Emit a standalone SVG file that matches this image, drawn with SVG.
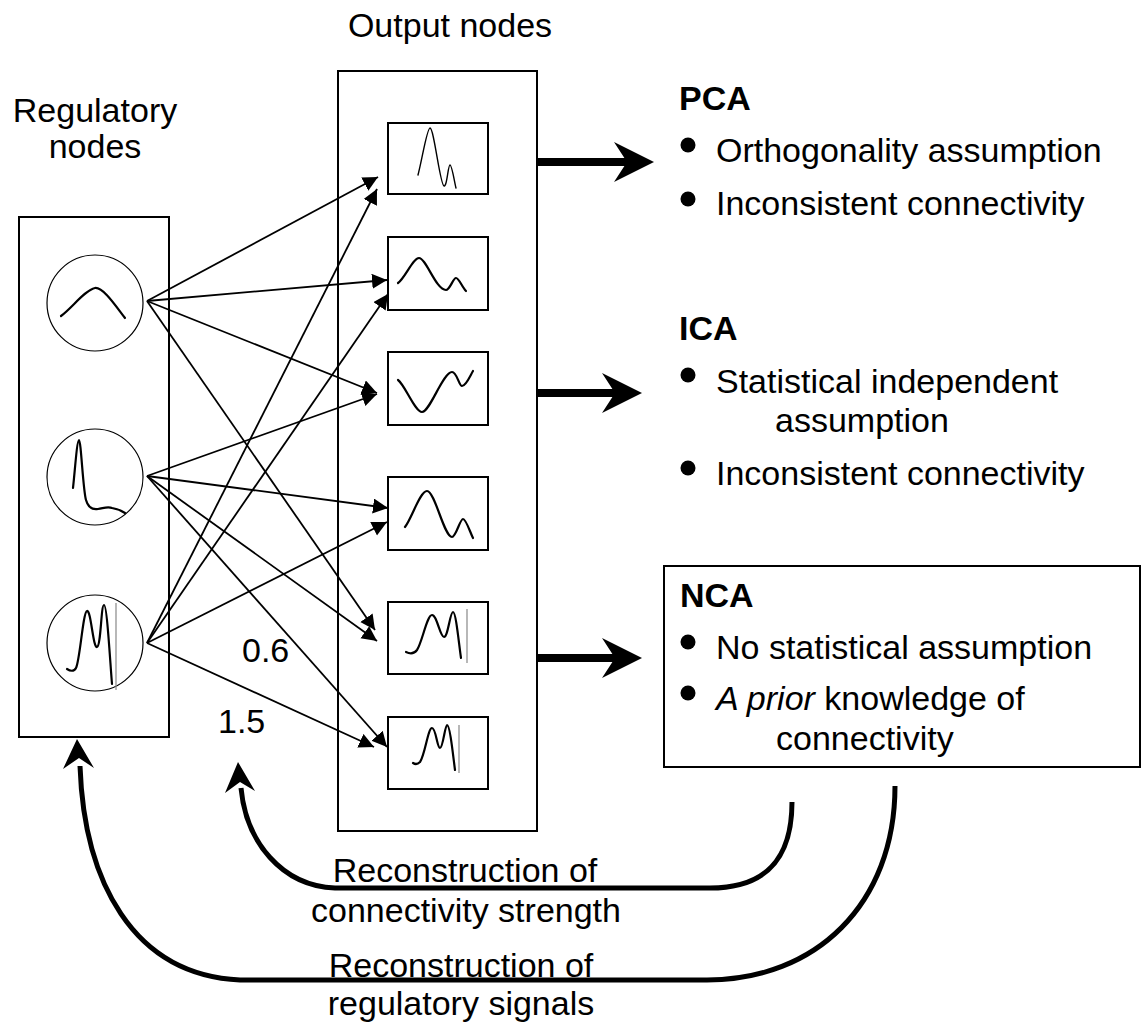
<svg xmlns="http://www.w3.org/2000/svg" width="1141" height="1024" viewBox="0 0 1141 1024">
  <style>
    text { font-family: "Liberation Sans", Arial, sans-serif; font-size: 34px; fill: #000; }
    .bold { font-weight: bold; }
    .frame { fill: #fff; stroke: #000; stroke-width: 2; }
    .node { fill: #fff; stroke: #000; stroke-width: 1.2; }
    .wave { fill: none; stroke: #000; stroke-width: 2.2; stroke-linecap: round; stroke-linejoin: round; }
    .wave-thin { fill: none; stroke: #000; stroke-width: 1.4; stroke-linecap: round; stroke-linejoin: round; }
    .baseline { stroke: #888; stroke-width: 1.2; }
    .link { fill: none; stroke: #000; stroke-width: 1.8; marker-end: url(#tri); }
    .thick { fill: none; stroke: #000; stroke-width: 8; }
    .loop { fill: none; stroke: #000; stroke-width: 5; }
    .bullet { fill: #000; }
  </style>
  <defs>
    <marker id="tri" markerUnits="userSpaceOnUse" markerWidth="16" markerHeight="16" refX="15" refY="7.5" orient="auto">
      <path d="M0,0 L15,7.5 L0,15 z" fill="#000"/>
    </marker>
  </defs>

  <rect width="1141" height="1024" fill="#fff"/>

  <!-- titles -->
  <text x="95" y="122" text-anchor="middle">Regulatory</text>
  <text x="95" y="158" text-anchor="middle">nodes</text>
  <text x="450" y="37" text-anchor="middle">Output nodes</text>

  <!-- regulatory nodes -->
  <g id="regulatory-nodes">
    <rect class="frame" x="19" y="217" width="150" height="520"/>
    <g id="reg-1">
      <circle class="node" cx="95" cy="303" r="48"/>
      <path class="wave" d="M61,316 C72,308 85,290 95,288 C103,287 115,305 125,318"/>
    </g>
    <g id="reg-2">
      <circle class="node" cx="95" cy="477" r="48"/>
      <path class="wave" d="M73,488 C75,470 77,440 79,440 C81,440 83,490 86,500 C88,507 92,510 98,509 C104,508 108,506 112,508 C118,509 122,511 125,513"/>
    </g>
    <g id="reg-3">
      <circle class="node" cx="95" cy="643" r="48"/>
      <path class="wave" d="M67,669 C70,671 74,672 76,668 C80,660 83,612 87,611 C91,610 93,648 97,647 C101,646 101,605 104,605 C107,605 110,660 112,684"/>
      <line class="baseline" x1="116" y1="603" x2="116" y2="690"/>
    </g>
  </g>

  <!-- output nodes -->
  <g id="output-nodes">
    <rect class="frame" x="338" y="71" width="199" height="760"/>
    <g id="out-1">
      <rect class="frame" x="388" y="123" width="100" height="71"/>
      <path class="wave-thin" d="M418,175 C422,160 427,128 430,128 C434,128 440,185 444,186 C447,187 448,165 450,165 C452,165 455,185 456,188"/>
    </g>
    <g id="out-2">
      <rect class="frame" x="388" y="237" width="100" height="73"/>
      <path class="wave" d="M398,283 C405,278 413,258 419,258 C426,258 436,290 446,290 C450,290 453,278 456,278 C459,278 462,287 466,291"/>
    </g>
    <g id="out-3">
      <rect class="frame" x="388" y="352" width="100" height="73"/>
      <path class="wave" d="M398,380 C405,385 415,412 422,412 C430,412 443,372 452,372 C457,372 459,386 462,386 C466,386 470,376 473,371"/>
    </g>
    <g id="out-4">
      <rect class="frame" x="388" y="477" width="100" height="73"/>
      <path class="wave" d="M405,527 C412,518 420,491 427,491 C435,491 444,537 452,537 C456,537 460,519 463,519 C466,519 470,532 473,538"/>
    </g>
    <g id="out-5">
      <rect class="frame" x="388" y="602" width="100" height="72"/>
      <path class="wave" d="M406,652 C410,654 414,654 417,650 C422,643 427,615 432,615 C437,615 440,637 444,637 C448,637 450,612 453,612 C456,612 459,645 461,658"/>
      <line class="baseline" x1="467" y1="609" x2="467" y2="663"/>
    </g>
    <g id="out-6">
      <rect class="frame" x="388" y="717" width="100" height="72"/>
      <path class="wave" d="M413,763 C416,765 418,764 420,762 C425,755 428,728 432,728 C436,728 437,748 440,748 C443,748 445,725 447,725 C450,725 453,755 455,770"/>
      <line class="baseline" x1="459" y1="725" x2="459" y2="773"/>
    </g>
  </g>

  <!-- connectivity links -->
  <g id="connectors">
    <line class="link" x1="147" y1="301" x2="378" y2="177"/>
    <line class="link" x1="147" y1="301" x2="387" y2="280"/>
    <line class="link" x1="147" y1="301" x2="377" y2="393"/>
    <line class="link" x1="147" y1="301" x2="375" y2="630"/>

    <line class="link" x1="147" y1="476" x2="377" y2="394"/>
    <line class="link" x1="147" y1="476" x2="388" y2="508"/>
    <line class="link" x1="147" y1="476" x2="377" y2="641"/>
    <line class="link" x1="147" y1="476" x2="387" y2="747"/>

    <line class="link" x1="147" y1="643" x2="377" y2="189"/>
    <line class="link" x1="147" y1="643" x2="388" y2="294"/>
    <line class="link" x1="147" y1="643" x2="387" y2="522"/>
    <line class="link" x1="147" y1="643" x2="374" y2="747"/>

    <!-- method arrows -->
    <line class="thick" x1="538" y1="162" x2="628" y2="162"/>
    <polygon points="654,162 614,142 627,162 614,182"/>
    <line class="thick" x1="538" y1="393" x2="616" y2="393"/>
    <polygon points="642,393 602,373 615,393 602,413"/>
    <line class="thick" x1="538" y1="658" x2="616" y2="658"/>
    <polygon points="642,658 602,638 615,658 602,678"/>

    <!-- feedback loops -->
    <path class="loop" d="M792,802 C792,860 765,888 710,888 L335,888 C282,886 246,842 241,788"/>
    <polygon points="238,762 225,793 240,782 255,791"/>
    <path class="loop" d="M895,786 C895,905 815,980 707,980 L240,980 C132,975 84,880 80,766"/>
    <polygon points="77,739 63,769 79,758 94,768"/>
  </g>

  <!-- weights -->
  <text x="242" y="662">0.6</text>
  <text x="218" y="733">1.5</text>

  <!-- loop labels -->
  <text x="465" y="882" text-anchor="middle">Reconstruction of</text>
  <text x="466" y="922" text-anchor="middle">connectivity strength</text>
  <text x="461" y="977" text-anchor="middle">Reconstruction of</text>
  <text x="461" y="1015" text-anchor="middle">regulatory signals</text>

  <!-- PCA -->
  <g id="pca">
    <text class="bold" x="679" y="110">PCA</text>
    <circle class="bullet" cx="688" cy="145" r="7.5"/>
    <text x="716" y="162">Orthogonality assumption</text>
    <circle class="bullet" cx="688" cy="199" r="7.5"/>
    <text x="716" y="215">Inconsistent connectivity</text>
  </g>

  <!-- ICA -->
  <g id="ica">
    <text class="bold" x="679" y="340">ICA</text>
    <circle class="bullet" cx="688" cy="375" r="7.5"/>
    <text x="716" y="393">Statistical independent</text>
    <text x="775" y="432">assumption</text>
    <circle class="bullet" cx="688" cy="468" r="7.5"/>
    <text x="716" y="485">Inconsistent connectivity</text>
  </g>

  <!-- NCA -->
  <g id="nca">
    <rect class="frame" x="664" y="566" width="476" height="201"/>
    <text class="bold" x="680" y="607">NCA</text>
    <circle class="bullet" cx="688" cy="642" r="7.5"/>
    <text x="716" y="659">No statistical assumption</text>
    <circle class="bullet" cx="688" cy="693" r="7.5"/>
    <text x="716" y="710"><tspan font-style="italic">A prior</tspan> knowledge of</text>
    <text x="776" y="750">connectivity</text>
  </g>
</svg>
